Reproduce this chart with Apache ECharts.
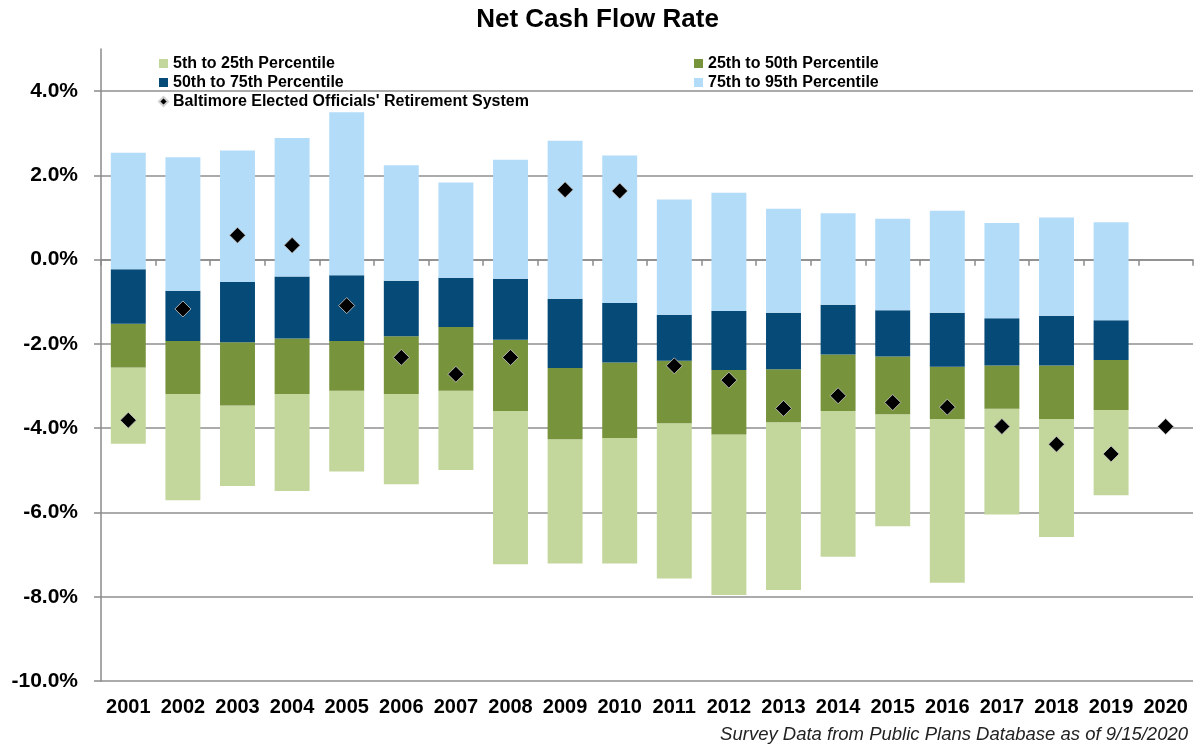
<!DOCTYPE html>
<html>
<head>
<meta charset="utf-8">
<script src="https://cdn.jsdelivr.net/npm/echarts@6/dist/echarts.min.js"></script>
<style>html,body{margin:0;padding:0;background:#fff}#c{width:1195px;height:746px}</style>
</head>
<body>
<div id="c"></div>
<script>
const years = ['2001','2002','2003','2004','2005','2006','2007','2008','2009','2010','2011','2012','2013','2014','2015','2016','2017','2018','2019','2020'];
const p5  = [-4.37,-5.71,-5.37,-5.49,-5.03,-5.33,-4.99,-7.23,-7.21,-7.21,-7.57,-7.96,-7.84,-7.05,-6.33,-7.67,-6.05,-6.58,-5.59,null];
const p25 = [-2.56,-3.19,-3.46,-3.19,-3.11,-3.19,-3.11,-3.59,-4.26,-4.23,-3.88,-4.15,-3.86,-3.59,-3.67,-3.78,-3.54,-3.78,-3.57,null];
const p50 = [-1.52,-1.93,-1.96,-1.87,-1.93,-1.82,-1.60,-1.90,-2.57,-2.44,-2.40,-2.62,-2.60,-2.25,-2.30,-2.54,-2.51,-2.51,-2.38,null];
const p75 = [-0.23,-0.74,-0.53,-0.40,-0.37,-0.50,-0.43,-0.45,-0.93,-1.03,-1.31,-1.22,-1.26,-1.07,-1.20,-1.26,-1.39,-1.33,-1.44,null];
const p95 = [2.54,2.43,2.59,2.89,3.50,2.24,1.83,2.37,2.82,2.47,1.43,1.59,1.21,1.10,0.97,1.16,0.87,1.00,0.89,null];
const baltimore = [-3.81,-1.17,0.58,0.34,-1.09,-2.32,-2.72,-2.32,1.66,1.63,-2.52,-2.86,-3.53,-3.23,-3.39,-3.50,-3.96,-4.38,-4.61,-3.96];
const yTicks = [-10,-8,-6,-4,-2,0,2,4];

const names = ['5th to 25th Percentile','25th to 50th Percentile','50th to 75th Percentile','75th to 95th Percentile','Baltimore Elected Officials\' Retirement System'];
const colors = ['#c3d69b','#77933c','#064a78','#b3dcf9'];

function diff(a,b){ return a.map((v,i)=> (v==null||b[i]==null) ? '-' : +(v-b[i]).toFixed(4)); }

const chart = echarts.init(document.getElementById('c'));
const font = '"Liberation Sans", Arial, sans-serif';
const bandData = [diff(p25,p5), diff(p50,p25), diff(p75,p50), diff(p95,p75)];

const series = [{
  name: 'base', type: 'bar', stack: 'b', stackStrategy: 'all', xAxisIndex: 0,
  data: p5.map(v=> v==null ? '-' : v), barWidth: '64%',
  itemStyle: {color: 'rgba(0,0,0,0)'}, silent: true, z: 1
}];
bandData.forEach((d,i)=>{
  series.push({name: names[i], type: 'bar', stack: 'b', stackStrategy: 'all', xAxisIndex: 0,
    data: d, barWidth: '64%', itemStyle: {color: colors[i]}, z: 2});
});
series.push({name: names[4], type: 'scatter', xAxisIndex: 0, data: baltimore,
  symbol: 'diamond', symbolSize: 16,
  itemStyle: {color: '#000', opacity: 1, borderColor: '#d0d0d0', borderWidth: 0.8}, z: 5});

const legendText = {fontFamily: font, fontSize: 16, fontWeight: 'bold', color: '#000', lineHeight: 19};
chart.setOption({
  animation: false,
  backgroundColor: '#fff',
  title: {text: 'Net Cash Flow Rate', left: 'center', top: 2,
    textStyle: {fontFamily: font, fontSize: 26, fontWeight: 'bold', color: '#000'}},
  legend: [
    {data: [{name: names[0], icon: 'rect'}, {name: names[2], icon: 'rect'}, {name: names[4], icon: 'diamond'}],
     orient: 'vertical', left: 158, top: 54, itemWidth: 9, itemHeight: 9, itemGap: 0, textStyle: legendText, padding: 0},
    {data: [{name: names[1], icon: 'rect'}, {name: names[3], icon: 'rect'}],
     orient: 'vertical', left: 694, top: 54, itemWidth: 9, itemHeight: 9, itemGap: 0, textStyle: legendText, padding: 0}
  ],
  grid: {left: 101, right: 2, top: 49, bottom: 65, containLabel: false},
  xAxis: [
    {type: 'category', data: years, position: 'bottom',
     axisLine: {show: false, onZero: false}, axisTick: {show: false},
     axisLabel: {interval: 0, fontFamily: font, fontSize: 20, fontWeight: 'bold', color: '#000', margin: 16}},
    {type: 'category', data: years, position: 'bottom',
     axisLine: {show: true, onZero: true, onZeroAxisIndex: 0, lineStyle: {color: '#8a8a8a', width: 1.5}},
     axisTick: {show: true, interval: 0, length: 6, lineStyle: {color: '#8a8a8a', width: 1.5}},
     axisLabel: {show: false}, splitLine: {show: false}}
  ],
  yAxis: {type: 'value', min: yTicks[0], max: 5, interval: 2,
    axisLine: {show: true, lineStyle: {color: '#8a8a8a', width: 1.5}},
    axisTick: {show: true, length: 7, lineStyle: {color: '#8a8a8a', width: 1.5}},
    splitLine: {show: true, showMaxLine: false, lineStyle: {color: '#8f8f8f', width: 1.5}},
    axisLabel: {showMaxLabel: false, fontFamily: font, fontSize: 21, fontWeight: 'bold', color: '#000', margin: 23,
      formatter: v => yTicks.indexOf(v) >= 0 ? v.toFixed(1) + '%' : ''}},
  graphic: [{type: 'text', right: 7, bottom: 2,
    style: {text: 'Survey Data from Public Plans Database as of 9/15/2020', fontFamily: font, fontSize: 18.5,
      fontStyle: 'italic', fill: '#222'}}],
  series: series
});
</script>
</body>
</html>
